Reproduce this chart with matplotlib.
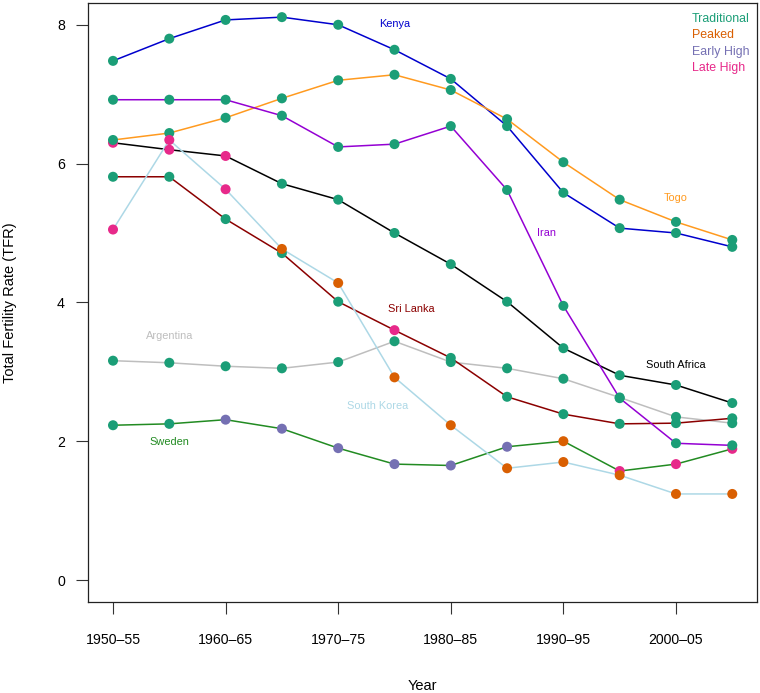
import matplotlib
matplotlib.use('Agg')
import matplotlib.pyplot as plt

plt.rcParams['font.family'] = ['Liberation Sans', 'DejaVu Sans']

periods = ['1950-55', '1955-60', '1960-65', '1965-70', '1970-75', '1975-80',
           '1980-85', '1985-90', '1990-95', '1995-00', '2000-05', '2005-10']
tick_labels = ['1950\u201355', '1960\u201365', '1970\u201375', '1980\u201385', '1990\u201395', '2000\u201305']

# TFR per country
kenya = [7.48, 7.80, 8.07, 8.11, 8.00, 7.64, 7.22, 6.54, 5.58, 5.07, 5.00, 4.80]
togo = [6.34, 6.44, 6.66, 6.94, 7.20, 7.28, 7.06, 6.64, 6.02, 5.48, 5.16, 4.90]
iran = [6.92, 6.92, 6.92, 6.69, 6.24, 6.28, 6.54, 5.62, 3.95, 2.62, 1.97, 1.94]
south_africa = [6.30, 6.20, 6.11, 5.71, 5.48, 5.00, 4.55, 4.01, 3.34, 2.95, 2.81, 2.55]
sri_lanka = [5.81, 5.81, 5.20, 4.71, 4.01, 3.60, 3.20, 2.64, 2.39, 2.25, 2.26, 2.33]
argentina = [3.16, 3.13, 3.08, 3.05, 3.14, 3.44, 3.14, 3.05, 2.90, 2.63, 2.35, 2.26]
sweden = [2.23, 2.25, 2.31, 2.18, 1.90, 1.67, 1.65, 1.92, 2.00, 1.57, 1.67, 1.89]
south_korea = [5.05, 6.34, 5.63, 4.77, 4.28, 2.92, 2.23, 1.61, 1.70, 1.51, 1.24, 1.24]

# pattern class of each point: T=Traditional, P=Peaked, E=Early High, L=Late High
kenya_cls = 'TTTTTTTTTTTT'
togo_cls = 'TTTTTTTTTTTT'
iran_cls = 'TTTTTTTTTTTT'
south_africa_cls = 'LLLTTTTTTTTT'
sri_lanka_cls = 'TTTTTLTTTTTT'
argentina_cls = 'TTTTTTTTTTTT'
sweden_cls = 'TTEEEEEEPLLL'
south_korea_cls = 'LLLPPPPPPPPP'

class_names = ['Traditional', 'Peaked', 'Early High', 'Late High']
class_colors = {'T': '#1B9E77', 'P': '#D95F02', 'E': '#7570B3', 'L': '#E7298A'}

# name, values, classes, line colour, label position (x index, y)
countries = [
    ('Sweden', sweden, sweden_cls, '#228B22', (1.0, 1.99)),
    ('South Africa', south_africa, south_africa_cls, 'black', (10.0, 3.10)),
    ('Argentina', argentina, argentina_cls, '#BEBEBE', (1.0, 3.52)),
    ('Sri Lanka', sri_lanka, sri_lanka_cls, '#8B0000', (5.3, 3.90)),
    ('Kenya', kenya, kenya_cls, '#0000CD', (5.0, 8.01)),
    ('Togo', togo, togo_cls, '#FF9A1F', (10.0, 5.51)),
    ('Iran', iran, iran_cls, '#9400D3', (7.7, 5.00)),
    ('South Korea', south_korea, south_korea_cls, '#ADD8E6', (4.7, 2.50)),
]

x = list(range(len(periods)))

fig = plt.figure(figsize=(7.6, 6.93), dpi=100)
ax = fig.add_axes([0.1158, 0.1313, 0.9961 - 0.1158, 0.9957 - 0.1313])

for name, vals, cls, col, pos in countries:
    ax.plot(x, vals, color=col, lw=1.1, zorder=2)
for name, vals, cls, col, pos in countries:
    ax.scatter(x, vals, s=52, c=[class_colors[c] for c in cls], zorder=3, linewidths=0)
    ax.text(pos[0], pos[1], name, color=col, fontsize=7.9, ha='center', va='center')

# class key in the top right corner
for i, (k, nm) in enumerate(zip('TPEL', class_names)):
    ax.text(692 / 760, 1 - (19 + i * 16.3) / 693, nm, color=class_colors[k], fontsize=8.9,
            ha='left', va='center', transform=fig.transFigure)

ax.set_xlim(-0.444, 11.44)
ax.set_ylim(-0.317, 8.314)
ax.set_xticks(range(0, 12, 2))
ax.set_xticklabels(tick_labels)
ax.set_yticks([0, 2, 4, 6, 8])
ax.tick_params(axis='x', length=8.6, width=0.8, pad=14, labelsize=10.2, color='#333333')
ax.tick_params(axis='y', length=8.6, width=0.8, pad=8, labelsize=10.2, color='#333333')
for sp in ax.spines.values():
    sp.set_linewidth(0.9)
    sp.set_color('#222222')

ax.set_xlabel('Year', fontsize=10.5)
ax.xaxis.set_label_coords(0.5, -0.128)
ax.set_ylabel('Total Fertility Rate (TFR)', fontsize=10.5)
ax.yaxis.set_label_coords(-0.106, 0.5)

fig.savefig('out.png', dpi=100)
